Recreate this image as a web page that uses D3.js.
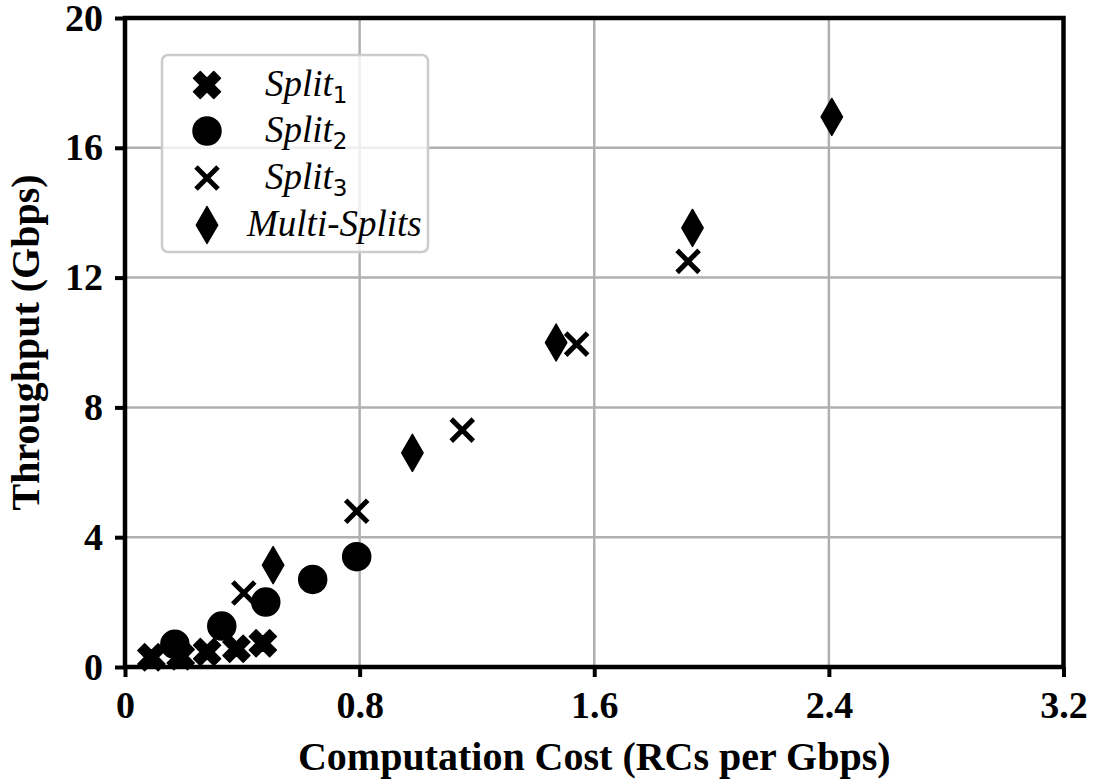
<!DOCTYPE html>
<html>
<head>
<meta charset="utf-8">
<script src="https://cdn.jsdelivr.net/npm/d3@7"></script>
<style>
  html, body { margin: 0; padding: 0; background: #fff; }
  svg { display: block; }
</style>
</head>
<body>
<svg id="chart" width="1094" height="780"></svg>
<script>
// ---- data ----
const split1X = [0.09, 0.19, 0.28, 0.38, 0.47];
const split1Y = [0.30, 0.33, 0.46, 0.56, 0.73];
const split2X = [0.17, 0.33, 0.48, 0.64, 0.79];
const split2Y = [0.70, 1.26, 2.00, 2.70, 3.40];
const split3X = [0.405, 0.79, 1.15, 1.54, 1.92];
const split3Y = [2.28, 4.80, 7.30, 9.95, 12.50];
const multiX = [0.505, 0.98, 1.47, 1.935, 2.41];
const multiY = [3.14, 6.60, 10.00, 13.53, 16.95];
const xTicks = [0, 0.8, 1.6, 2.4, 3.2];
const yTicks = [0, 4, 8, 12, 16, 20];
const seriesNames = ["Split", "Split", "Split", "Multi-Splits"];
const seriesSubs = ["1", "2", "3", ""];
const xLabel = "Computation Cost (RCs per Gbps)";
const yLabel = "Throughput (Gbps)";

(function () {
// ---- layout ----
const svg = d3.select("#chart");
const pL = 125, pR = 1063.5, pT = 18, pB = 667;
const x = d3.scaleLinear().domain([0, 3.2]).range([pL, pR]);
const y = d3.scaleLinear().domain([0, 20]).range([pB, pT]);
const serif = "'Liberation Serif', 'Times New Roman', serif";

// grid
svg.append("g").selectAll("line").data(xTicks).join("line")
  .attr("x1", d => x(d)).attr("x2", d => x(d)).attr("y1", pT).attr("y2", pB)
  .attr("stroke", "#b0b0b0").attr("stroke-width", 2.5);
svg.append("g").selectAll("line").data(yTicks).join("line")
  .attr("y1", d => y(d)).attr("y2", d => y(d)).attr("x1", pL).attr("x2", pR)
  .attr("stroke", "#b0b0b0").attr("stroke-width", 2.5);

// markers
const series = [
  { xs: split1X, ys: split1Y, type: "Xfill" },
  { xs: split2X, ys: split2Y, type: "circle" },
  { xs: split3X, ys: split3Y, type: "times" },
  { xs: multiX, ys: multiY, type: "diamond" }
];
function markerPath(type) {
  if (type === "Xfill") return d3.symbol(d3.symbolCross, 455)();
  if (type === "circle") return d3.symbol(d3.symbolCircle, 616)();
  if (type === "times") return d3.symbol(d3.symbolTimes, 318)();
  return d3.symbol(d3.symbolDiamond, 395)();
}
function drawMarker(g, type, cx, cy) {
  const p = g.append("path").attr("d", markerPath(type));
  if (type === "times") {
    p.attr("fill", "none").attr("stroke", "#000").attr("stroke-width", 5);
    p.attr("transform", `translate(${cx},${cy})`);
  } else {
    p.attr("fill", "#000").attr("stroke", "#000").attr("stroke-width", 1.5)
     .attr("stroke-linejoin", "round");
    p.attr("transform", `translate(${cx},${cy})` + (type === "Xfill" ? " rotate(45)" : ""));
  }
}
const plotG = svg.append("g");
series.forEach(s => {
  s.xs.forEach((v, i) => drawMarker(plotG, s.type, x(v), y(s.ys[i])));
});

// axes
const xAxis = svg.append("g").attr("transform", `translate(0,${pB})`)
  .call(d3.axisBottom(x).tickValues(xTicks).tickFormat(d => d === 0 ? "0" : d3.format(".1f")(d)).tickSize(10).tickPadding(14));
const yAxis = svg.append("g").attr("transform", `translate(${pL},0)`)
  .call(d3.axisLeft(y).tickValues(yTicks).tickFormat(d3.format("d")).tickSize(10).tickPadding(12));
[xAxis, yAxis].forEach(a => {
  a.select(".domain").remove();
  a.selectAll(".tick line").attr("stroke", "#000").attr("stroke-width", 4);
  a.selectAll(".tick text").attr("fill", "#000")
    .style("font-family", serif).style("font-weight", "bold").style("font-size", "38px");
});

// frame
svg.append("rect").attr("x", pL).attr("y", pT)
  .attr("width", pR - pL).attr("height", pB - pT)
  .attr("fill", "none").attr("stroke", "#000").attr("stroke-width", 4.5);

// axis labels
svg.append("text").attr("x", (pL + pR) / 2).attr("y", 770)
  .attr("text-anchor", "middle").style("font-family", serif)
  .style("font-weight", "bold").style("font-size", "40px").text(xLabel);
svg.append("text").attr("transform", `translate(39,${(pT + pB) / 2}) rotate(-90)`)
  .attr("text-anchor", "middle").style("font-family", serif)
  .style("font-weight", "bold").style("font-size", "40px").text(yLabel);

// legend
const lg = svg.append("g");
lg.append("rect").attr("x", 162).attr("y", 55).attr("width", 266).attr("height", 197)
  .attr("rx", 6).attr("fill", "#fff").attr("fill-opacity", 0.8)
  .attr("stroke", "#cccccc").attr("stroke-width", 2.5);
const rowY = [85, 131, 178, 225];
const textX = [265, 265, 265, 247];
series.forEach((s, i) => {
  drawMarker(lg, s.type, 207, rowY[i]);
  const t = lg.append("text").attr("x", textX[i]).attr("y", rowY[i] + 11)
    .style("font-family", serif).style("font-style", "italic").style("font-size", "37px");
  t.append("tspan").text(seriesNames[i]);
  if (seriesSubs[i]) {
    t.append("tspan").attr("dy", 7).style("font-family", "'DejaVu Sans', sans-serif")
      .style("font-style", "normal").style("font-size", "23px").text(seriesSubs[i]);
  }
});
})();
</script>
</body>
</html>
